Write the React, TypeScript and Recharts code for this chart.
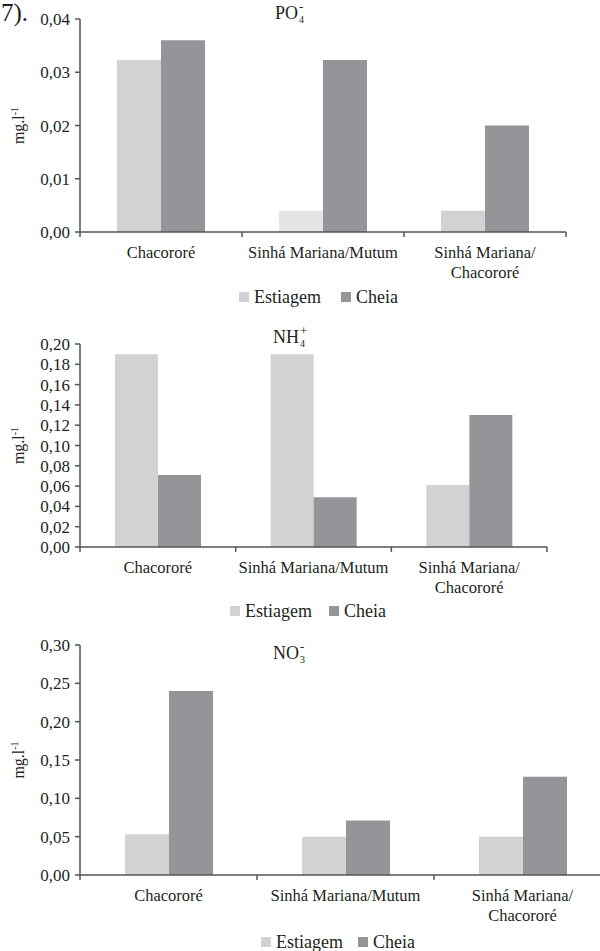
import React from 'react';
import { BarChart, Bar, XAxis, YAxis, Cell } from 'recharts';

const FONT = '"Liberation Serif", "Times New Roman", serif';
const TEXT = '#231f20';
const AXIS = '#555555';
const C_EST = '#d1d2d4';
const C_EST_LIGHT = '#e3e4e5';
const C_CHEIA = '#939598';

const categories = ['Chacororé', 'Sinhá Mariana/Mutum', 'Sinhá Mariana/\nChacororé'];
const seriesNames = ['Estiagem', 'Cheia'];

const po4Estiagem = [0.0323, 0.004, 0.004];
const po4Cheia = [0.036, 0.0323, 0.02];
const po4Ticks = [0, 0.01, 0.02, 0.03, 0.04];

const nh4Estiagem = [0.19, 0.19, 0.061];
const nh4Cheia = [0.071, 0.049, 0.13];
const nh4Ticks = [0, 0.02, 0.04, 0.06, 0.08, 0.1, 0.12, 0.14, 0.16, 0.18, 0.2];

const no3Estiagem = [0.053, 0.05, 0.05];
const no3Cheia = [0.24, 0.071, 0.128];
const no3Ticks = [0, 0.05, 0.1, 0.15, 0.2, 0.25, 0.3];

const fmt = (v: number) => v.toFixed(2).replace('.', ',');

const buildData = (est: number[], cheia: number[]) =>
  categories.map((name, i) => ({ name, Estiagem: est[i], Cheia: cheia[i] }));

const makeBottomTick = (band: number) => (props: any) => {
  const { x, y, payload, index } = props;
  const lines = String(payload.value).split('\n');
  const left = x - band / 2;
  const right = x + band / 2;
  return (
    <g>
      <line x1={left} x2={left} y1={y} y2={y + 5} stroke={AXIS} strokeWidth={1.5} />
      {index === categories.length - 1 && (
        <line x1={right} x2={right} y1={y} y2={y + 5} stroke={AXIS} strokeWidth={1.5} />
      )}
      <text x={x} y={y} textAnchor="middle" fontFamily={FONT} fontSize={16.5} fill={TEXT}>
        {lines.map((l, i) => (
          <tspan key={i} x={x} dy={i === 0 ? 26 : 20}>
            {l}
          </tspan>
        ))}
      </text>
    </g>
  );
};

const YLabel = (props: any) => {
  const vb = props.viewBox || {};
  const cy = (vb.y || 0) + (vb.height || 0) / 2;
  return (
    <text
      transform={`translate(24, ${cy}) rotate(-90)`}
      textAnchor="middle"
      fontFamily={FONT}
      fontSize={16}
      fill={TEXT}
    >
      mg.l
      <tspan dy={-6} fontSize={10}>
        -1
      </tspan>
    </text>
  );
};

type PanelProps = {
  top: number;
  width: number;
  height: number;
  margin: { top: number; right: number; bottom: number; left: number };
  est: number[];
  cheia: number[];
  ticks: number[];
  barSize: number;
  estColors: string[];
};

const Y_WIDTH = 80;

const Panel = ({ top, width, height, margin, est, cheia, ticks, barSize, estColors }: PanelProps) => {
  const data = buildData(est, cheia);
  const band = (width - margin.left - margin.right - Y_WIDTH) / categories.length;
  const Tick = makeBottomTick(band);
  return (
    <div style={{ position: 'absolute', left: 0, top }}>
      <BarChart width={width} height={height} data={data} margin={margin} barGap={0} barSize={barSize}>
        <XAxis
          dataKey="name"
          interval={0}
          tickLine={false}
          tickSize={0}
          tickMargin={0}
          height={60}
          axisLine={{ stroke: AXIS, strokeWidth: 1.5 }}
          tick={<Tick />}
        />
        <YAxis
          domain={[0, ticks[ticks.length - 1]]}
          ticks={ticks}
          interval={0}
          width={Y_WIDTH}
          tickFormatter={fmt}
          tickSize={5}
          tickMargin={5}
          axisLine={{ stroke: AXIS, strokeWidth: 1.5 }}
          tickLine={{ stroke: AXIS, strokeWidth: 1.5 }}
          tick={{ fill: TEXT, fontSize: 17, fontFamily: FONT }}
          label={<YLabel />}
        />
        <Bar dataKey="Estiagem" name={seriesNames[0]} fill={C_EST} isAnimationActive={false}>
          {data.map((_, i) => (
            <Cell key={i} fill={estColors[i]} />
          ))}
        </Bar>
        <Bar dataKey="Cheia" name={seriesNames[1]} fill={C_CHEIA} isAnimationActive={false} />
      </BarChart>
    </div>
  );
};

const Title = ({ left, top, base, sub, sup }: { left: number; top: number; base: string; sub: string; sup: string }) => (
  <div
    style={{
      position: 'absolute',
      left,
      top,
      fontFamily: FONT,
      fontSize: 18,
      lineHeight: '20px',
      color: TEXT,
      whiteSpace: 'nowrap',
    }}
  >
    {base}
    <span style={{ position: 'relative', display: 'inline-block', width: 9, height: 20, verticalAlign: 'top' }}>
      <span style={{ position: 'absolute', left: 1, top: 0, fontSize: 13, lineHeight: '8px' }}>{sup}</span>
      <span style={{ position: 'absolute', left: 1, top: 11, fontSize: 10, lineHeight: '12px' }}>{sub}</span>
    </span>
  </div>
);

const Legend2 = ({ top, estX, cheiaX }: { top: number; estX: number; cheiaX: number }) => {
  const item = (x: number, color: string, label: string) => (
    <div
      style={{
        position: 'absolute',
        left: x,
        top,
        display: 'flex',
        alignItems: 'center',
        fontFamily: FONT,
        fontSize: 18,
        lineHeight: '20px',
        color: TEXT,
        whiteSpace: 'nowrap',
      }}
    >
      <span style={{ display: 'inline-block', width: 10, height: 10, background: color, marginRight: 5 }} />
      {label}
    </div>
  );
  return (
    <>
      {item(estX, C_EST, seriesNames[0])}
      {item(cheiaX, C_CHEIA, seriesNames[1])}
    </>
  );
};

export default function App() {
  return (
    <div
      style={{
        position: 'absolute',
        left: 0,
        top: 0,
        width: 600,
        height: 951,
        overflow: 'hidden',
        background: '#ffffff',
      }}
    >
      <div
        style={{
          position: 'absolute',
          left: 1,
          top: 0,
          fontFamily: FONT,
          fontSize: 25,
          lineHeight: '26px',
          color: TEXT,
        }}
      >
        7).
      </div>

      <Panel
        top={0}
        width={600}
        height={292}
        margin={{ top: 19, right: 34, bottom: 0, left: 0 }}
        est={po4Estiagem}
        cheia={po4Cheia}
        ticks={po4Ticks}
        barSize={44}
        estColors={[C_EST, C_EST_LIGHT, C_EST]}
      />
      <Title left={275} top={3} base="PO" sub="4" sup="-" />
      <Legend2 top={287} estX={239} cheiaX={341} />

      <Panel
        top={320}
        width={600}
        height={287}
        margin={{ top: 24, right: 53, bottom: 0, left: 0 }}
        est={nh4Estiagem}
        cheia={nh4Cheia}
        ticks={nh4Ticks}
        barSize={43}
        estColors={[C_EST, C_EST, C_EST]}
      />
      <Title left={273} top={327} base="NH" sub="4" sup="+" />
      <Legend2 top={601} estX={230} cheiaX={329} />

      <Panel
        top={630}
        width={620}
        height={305}
        margin={{ top: 15, right: 9, bottom: 0, left: 0 }}
        est={no3Estiagem}
        cheia={no3Cheia}
        ticks={no3Ticks}
        barSize={44}
        estColors={[C_EST, C_EST, C_EST]}
      />
      <Title left={273} top={643} base="NO" sub="3" sup="-" />
      <Legend2 top={932} estX={261} cheiaX={358} />
    </div>
  );
}
